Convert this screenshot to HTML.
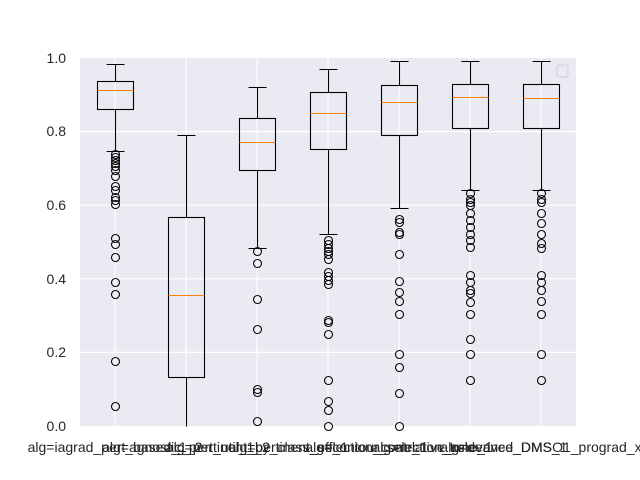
<!DOCTYPE html>
<html><head><meta charset="utf-8"><style>
html,body{margin:0;padding:0;background:#fff;}
svg{display:block;font-family:"Liberation Sans","DejaVu Sans",sans-serif;}
</style></head><body>
<svg width="640" height="480" viewBox="0 0 640 480" xmlns="http://www.w3.org/2000/svg">
<rect x="0" y="0" width="640" height="480" fill="#fff"/>
<rect x="80" y="58" width="496" height="368" fill="#eaeaf2"/>
<g stroke="#fff" stroke-width="1.2">
<line x1="80" x2="576" y1="352.4" y2="352.4"/><line x1="80" x2="576" y1="278.8" y2="278.8"/>
<line x1="80" x2="576" y1="205.2" y2="205.2"/><line x1="80" x2="576" y1="131.6" y2="131.6"/>
<line x1="115" x2="115" y1="58" y2="426"/><line x1="186" x2="186" y1="58" y2="426"/>
<line x1="257" x2="257" y1="58" y2="426"/><line x1="328" x2="328" y1="58" y2="426"/>
<line x1="399" x2="399" y1="58" y2="426"/><line x1="470" x2="470" y1="58" y2="426"/>
<line x1="541" x2="541" y1="58" y2="426"/>
</g>
<g fill="#262626" font-size="14" text-anchor="end">
<text x="66" y="431">0.0</text><text x="66" y="357">0.2</text><text x="66" y="284">0.4</text>
<text x="66" y="210">0.6</text><text x="66" y="136">0.8</text><text x="66" y="63">1.0</text>
</g>
<g transform="translate(0.5,0.5)">
<g stroke="#000" stroke-width="1.1" fill="none">
<line x1="115" x2="115" y1="64" y2="81"/><line x1="106" x2="124" y1="64" y2="64"/>
<rect x="97" y="81" width="36" height="28"/><line x1="115" x2="115" y1="109" y2="151"/><line x1="106" x2="124" y1="151" y2="151"/>
<line x1="186" x2="186" y1="135" y2="217"/><line x1="177" x2="195" y1="135" y2="135"/>
<rect x="168" y="217" width="36" height="160"/><line x1="186" x2="186" y1="377" y2="426"/>
<line x1="257" x2="257" y1="87" y2="118"/><line x1="248" x2="266" y1="87" y2="87"/>
<rect x="239" y="118" width="36" height="52"/><line x1="257" x2="257" y1="170" y2="248"/><line x1="248" x2="266" y1="248" y2="248"/>
<line x1="328" x2="328" y1="69" y2="92"/><line x1="319" x2="337" y1="69" y2="69"/>
<rect x="310" y="92" width="36" height="57"/><line x1="328" x2="328" y1="149" y2="234"/><line x1="319" x2="337" y1="234" y2="234"/>
<line x1="399" x2="399" y1="61" y2="85"/><line x1="390" x2="408" y1="61" y2="61"/>
<rect x="381" y="85" width="36" height="50"/><line x1="399" x2="399" y1="135" y2="208"/><line x1="390" x2="408" y1="208" y2="208"/>
<line x1="470" x2="470" y1="61" y2="84"/><line x1="461" x2="479" y1="61" y2="61"/>
<rect x="452" y="84" width="36" height="44"/><line x1="470" x2="470" y1="128" y2="190"/><line x1="461" x2="479" y1="190" y2="190"/>
<line x1="541" x2="541" y1="61" y2="84"/><line x1="532" x2="550" y1="61" y2="61"/>
<rect x="523" y="84" width="36" height="44"/><line x1="541" x2="541" y1="128" y2="190"/><line x1="532" x2="550" y1="190" y2="190"/>
</g>
<g stroke="#ff7f0e" stroke-width="1.1">
<line x1="97" x2="133" y1="90" y2="90"/><line x1="168" x2="204" y1="295" y2="295"/>
<line x1="239" x2="275" y1="142" y2="142"/><line x1="310" x2="346" y1="113" y2="113"/>
<line x1="381" x2="417" y1="102" y2="102"/><line x1="452" x2="488" y1="97" y2="97"/>
<line x1="523" x2="559" y1="98" y2="98"/>
</g>
<g stroke="#000" stroke-width="1.1" fill="none">
<circle cx="115" cy="154" r="4"/><circle cx="115" cy="157" r="4"/><circle cx="115" cy="160" r="4"/><circle cx="115" cy="163" r="4"/><circle cx="115" cy="166" r="4"/><circle cx="115" cy="170" r="4"/><circle cx="115" cy="176" r="4"/><circle cx="115" cy="186" r="4"/><circle cx="115" cy="190" r="4"/><circle cx="115" cy="197" r="4"/><circle cx="115" cy="200" r="4"/><circle cx="115" cy="204" r="4"/><circle cx="115" cy="238" r="4"/><circle cx="115" cy="244" r="4"/><circle cx="115" cy="257" r="4"/><circle cx="115" cy="282" r="4"/><circle cx="115" cy="294" r="4"/><circle cx="115" cy="361" r="4"/><circle cx="115" cy="406" r="4"/>
<circle cx="257" cy="251" r="4"/><circle cx="257" cy="263" r="4"/><circle cx="257" cy="299" r="4"/><circle cx="257" cy="329" r="4"/><circle cx="257" cy="389" r="4"/><circle cx="257" cy="392" r="4"/><circle cx="257" cy="421" r="4"/>
<circle cx="328" cy="240" r="4"/><circle cx="328" cy="244" r="4"/><circle cx="328" cy="248" r="4"/><circle cx="328" cy="251" r="4"/><circle cx="328" cy="254" r="4"/><circle cx="328" cy="259" r="4"/><circle cx="328" cy="272" r="4"/><circle cx="328" cy="276" r="4"/><circle cx="328" cy="280" r="4"/><circle cx="328" cy="284" r="4"/><circle cx="328" cy="320" r="4"/><circle cx="328" cy="322" r="4"/><circle cx="328" cy="334" r="4"/><circle cx="328" cy="380" r="4"/><circle cx="328" cy="401" r="4"/><circle cx="328" cy="410" r="4"/><circle cx="328" cy="426" r="4"/>
<circle cx="399" cy="219" r="4"/><circle cx="399" cy="222" r="4"/><circle cx="399" cy="232" r="4"/><circle cx="399" cy="234" r="4"/><circle cx="399" cy="254" r="4"/><circle cx="399" cy="281" r="4"/><circle cx="399" cy="292" r="4"/><circle cx="399" cy="301" r="4"/><circle cx="399" cy="314" r="4"/><circle cx="399" cy="354" r="4"/><circle cx="399" cy="367" r="4"/><circle cx="399" cy="393" r="4"/><circle cx="399" cy="426" r="4"/>
<circle cx="470" cy="193" r="4"/><circle cx="470" cy="199" r="4"/><circle cx="470" cy="202" r="4"/><circle cx="470" cy="205" r="4"/><circle cx="470" cy="213" r="4"/><circle cx="470" cy="220" r="4"/><circle cx="470" cy="227" r="4"/><circle cx="470" cy="234" r="4"/><circle cx="470" cy="240" r="4"/><circle cx="470" cy="247" r="4"/><circle cx="470" cy="275" r="4"/><circle cx="470" cy="282" r="4"/><circle cx="470" cy="290" r="4"/><circle cx="470" cy="293" r="4"/><circle cx="470" cy="302" r="4"/><circle cx="470" cy="314" r="4"/><circle cx="470" cy="339" r="4"/><circle cx="470" cy="354" r="4"/><circle cx="470" cy="380" r="4"/>
<circle cx="541" cy="193" r="4"/><circle cx="541" cy="199" r="4"/><circle cx="541" cy="202" r="4"/><circle cx="541" cy="213" r="4"/><circle cx="541" cy="223" r="4"/><circle cx="541" cy="234" r="4"/><circle cx="541" cy="243" r="4"/><circle cx="541" cy="248" r="4"/><circle cx="541" cy="275" r="4"/><circle cx="541" cy="282" r="4"/><circle cx="541" cy="290" r="4"/><circle cx="541" cy="301" r="4"/><circle cx="541" cy="314" r="4"/><circle cx="541" cy="354" r="4"/><circle cx="541" cy="380" r="4"/>
</g>
</g>
<rect x="557" y="65" width="11" height="12" rx="2" fill="#eaeaf2" stroke="#cfcfd6" stroke-width="1"/>
<g fill="#262626" font-size="14" text-anchor="middle">
<text x="115" y="452">alg=iagrad_pert_based_1_2</text>
<text x="186" y="452">alg=agnostic_pert_util_1_2</text>
<text x="257" y="452">alg=pertinent_by_class_eff_1</text>
<text x="328" y="452">alg=pertinent_selection_contr_1</text>
<text x="399" y="452">alg=contour_selection_tune_1</text>
<text x="470" y="452">alg=relative_relevance_DMS_1</text>
<text x="541" y="452">alg=derived_DMSO1_prograd_x</text>
</g>
</svg>
</body></html>
